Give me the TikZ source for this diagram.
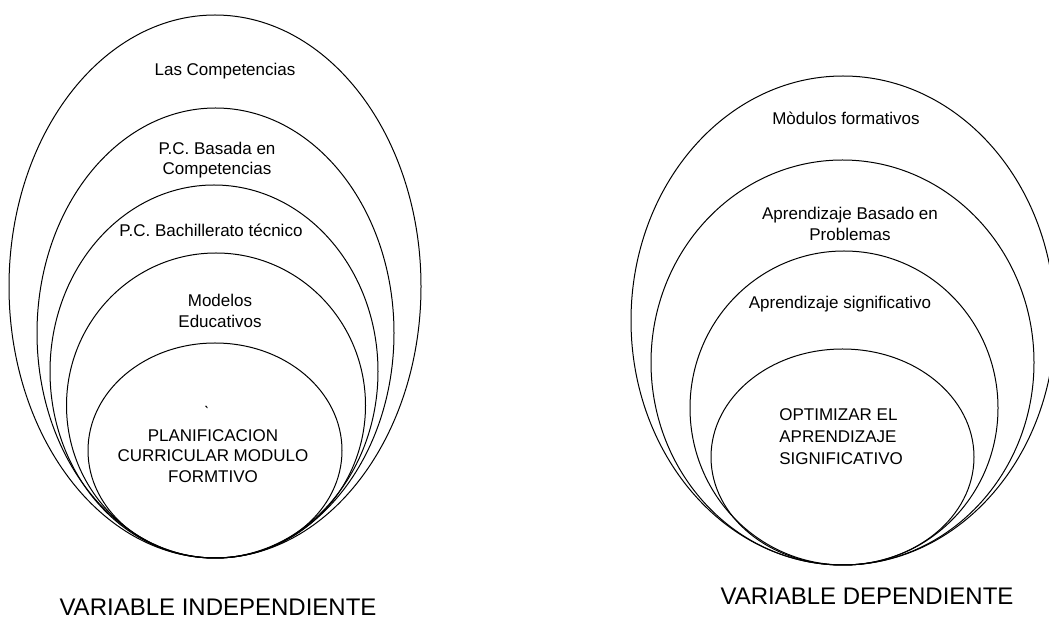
\documentclass[tikz,border=0pt]{standalone}
\usepackage{fontspec}
\setmainfont{Liberation Sans}
\usepackage{xcolor}
\usepackage{tikz}
\tikzstyle{ring} = [black,line width=0.5pt]
\tikzstyle{txt} = [inner sep=0pt,align=center,font=\fontsize{8.5}{10.2}\selectfont]
\tikzstyle{caption} = [inner sep=0pt,font=\fontsize{12}{14}\selectfont]

\begin{document}
\begin{tikzpicture}[x=0.5pt,y=-0.5pt]
          \useasboundingbox (0,0) rectangle (1049,619);
          \clip (0,0) rectangle (1049,619);
            % independiente
          \draw [ring] (215,286.5) ellipse (206 and 271.5);
          \draw [ring] (215.5,333) ellipse (178.5 and 225);
          \draw [ring] (214,371.5) ellipse (164 and 186.5);
          \draw [ring] (216,405.5) ellipse (149.5 and 152.5);
          \draw [ring] (215,450.5) ellipse (127 and 107.5);

          \node[txt] (comp) at (225,71) {Las Competencias};
          \node[txt] (basada) at (217,160) {P.C. Basada en\\Competencias};
          \node[txt] (bach) at (211,230) {P.C. Bachillerato técnico};
          \node[txt] (modelos) at (220,311) {Modelos\\Educativos};
          \node[txt,anchor=south] (tilde) at (207,422) {\`{}};
          \node[txt] (plan) at (213,456) {PLANIFICACION\\CURRICULAR MODULO\\FORMTIVO};
          \node[caption] (varind) at (218,607) {VARIABLE INDEPENDIENTE};

            % dependiente
          \draw [ring] (843,320.5) ellipse (212 and 244.5);
          \draw [ring] (842.5,362.5) ellipse (191.5 and 202.5);
          \draw [ring] (844,408) ellipse (154 and 157);
          \draw [ring] (842.5,457) ellipse (131.5 and 108);

          \node[txt] (mod) at (846,118) {Mòdulos formativos};
          \node[txt] (abp) at (850,224) {Aprendizaje Basado en\\Problemas};
          \node[txt] (asig) at (840,304) {Aprendizaje significativo};
          \node[txt,align=left,anchor=west,font=\fontsize{8.5}{11}\selectfont] (optim) at (779,437) {OPTIMIZAR EL\\APRENDIZAJE\\SIGNIFICATIVO};
          \node[caption] (vardep) at (867,596) {VARIABLE DEPENDIENTE};
        \end{tikzpicture}
\end{document}
